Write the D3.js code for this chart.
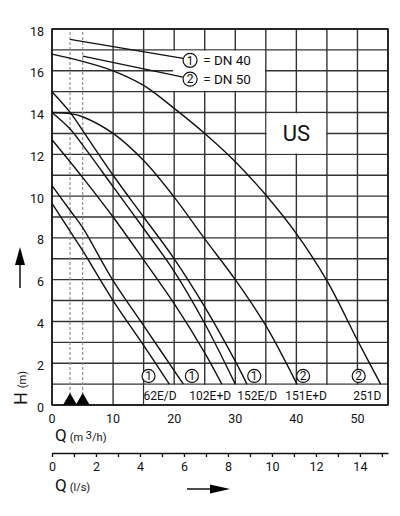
<!DOCTYPE html>
<html>
<head>
<meta charset="utf-8">
<script src="https://cdn.jsdelivr.net/npm/d3@7"></script>
<style>
  body { margin: 0; background: #fff; }
  svg text { font-family: Roboto, "Liberation Sans", sans-serif; fill: #111; }
</style>
</head>
<body>
<div id="chart"></div>
<script>
// grid and tick values
var qGridLines = [ 0, 10, 15, 20, 25, 30, 35, 40, 45, 50, 55 ];
var hGridLines = [ 0, 1, 2, 3, 4, 5, 6, 7, 8, 9, 10, 11, 12, 13, 14, 15, 16, 17, 18 ];
var hTickLabels = [ 0, 2, 4, 6, 8, 10, 12, 14, 16, 18 ];
var qTickLabels = [ 0, 10, 20, 30, 40, 50 ];
var lsTicks = [ 0, 1, 2, 3, 4, 5, 6, 7, 8, 9, 10, 11, 12, 13, 14, 15 ];
var lsTickLabels = [ 0, 2, 4, 6, 8, 10, 12, 14 ];

// pump curves, [ Q m3/h, H m ]
var curve251D = [ [ 0, 16.8 ], [ 5, 16.45 ], [ 10, 16.0 ], [ 15, 15.3 ], [ 20, 14.2 ], [ 25, 13.0 ], [ 30, 11.65 ], [ 35, 10.05 ], [ 40, 8.2 ], [ 45, 5.95 ], [ 50, 3.1 ], [ 53.8, 1.0 ] ];
var curve151ED = [ [ 0, 14.0 ], [ 3, 13.95 ], [ 5, 13.8 ], [ 10, 13.0 ], [ 15, 11.7 ], [ 20, 9.95 ], [ 25, 7.95 ], [ 30, 6.0 ], [ 35, 3.8 ], [ 40.1, 1.0 ] ];
var curve152Ea = [ [ 0, 15.0 ], [ 3, 14.0 ], [ 5, 13.15 ], [ 10, 11.0 ], [ 15, 9.0 ], [ 20, 7.0 ], [ 25, 4.7 ], [ 30, 2.1 ], [ 31.9, 1.0 ] ];
var curve152Eb = [ [ 0, 14.0 ], [ 3, 13.2 ], [ 5, 12.45 ], [ 10, 10.45 ], [ 15, 8.45 ], [ 20, 6.4 ], [ 25, 3.9 ], [ 30, 1.0 ] ];
var curve102ED = [ [ 0, 12.7 ], [ 5, 10.9 ], [ 10, 9.0 ], [ 15, 6.95 ], [ 20, 4.85 ], [ 25, 2.5 ], [ 27.8, 1.0 ] ];
var curve62Ea = [ [ 0, 10.5 ], [ 3, 9.3 ], [ 5, 8.5 ], [ 10, 5.95 ], [ 15, 3.8 ], [ 21.5, 1.0 ] ];
var curve62Eb = [ [ 0, 9.65 ], [ 3, 8.3 ], [ 5, 7.4 ], [ 10, 5.0 ], [ 15, 2.85 ], [ 19.2, 1.0 ] ];
var pumpCurves = [ curve251D, curve151ED, curve152Ea, curve152Eb, curve102ED, curve62Ea, curve62Eb ];

// pump names along the bottom, with DN marker
var pumpNames = [ "62E/D", "102E+D", "152E/D", "151E+D", "251D" ];
var pumpNameQ = [ 17.7, 25.9, 33.6, 41.6, 51.6 ];
var pumpMarks = [ "1", "1", "1", "2", "2" ];
var pumpMarkQ = [ 15.8, 22.9, 33.1, 41.1, 50.2 ];

// legend
var dnMarks = [ "1", "2" ];
var dnNames = [ "= DN 40", "= DN 50" ];
var dnLineQ = [ 2.95, 5.03 ];
var dnLineH = [ 17.5, 16.7 ];
var dnMarkH = [ 16.5, 15.6 ];

var W = 400, Hgt = 516;
var x = d3.scaleLinear().domain( [ 0, 55 ] ).range( [ 52, 388 ] );
var y = d3.scaleLinear().domain( [ 0, 18 ] ).range( [ 405, 29 ] );
var xls = d3.scaleLinear().domain( [ 0, 55 / 3.6 ] ).range( [ 52, 388 ] );

var svg = d3.select( "#chart" )
  .append( "svg" )
  .attr( "width", W )
  .attr( "height", Hgt );

var gridColor = "#333";

// grid
svg.append( "g" )
  .selectAll( "line" )
  .data( qGridLines )
  .enter()
  .append( "line" )
  .attr( "x1", d => x( d ) ).attr( "x2", d => x( d ) )
  .attr( "y1", y( 0 ) ).attr( "y2", y( 18 ) )
  .attr( "stroke", gridColor ).attr( "stroke-width", 1.4 );

svg.append( "g" )
  .selectAll( "line" )
  .data( hGridLines )
  .enter()
  .append( "line" )
  .attr( "x1", x( 0 ) ).attr( "x2", x( 55 ) )
  .attr( "y1", d => y( d ) ).attr( "y2", d => y( d ) )
  .attr( "stroke", gridColor ).attr( "stroke-width", 1.4 );

// white boxes cut out of the grid
function clearBox( q0, q1, h0, h1, padL ) {
  svg.append( "rect" )
    .attr( "x", x( q0 ) + padL )
    .attr( "y", y( h1 ) + 0.8 )
    .attr( "width", x( q1 ) - x( q0 ) - padL - 0.8 )
    .attr( "height", y( h0 ) - y( h1 ) - 1.6 )
    .attr( "fill", "#fff" );
}
clearBox( 20, 35, 15, 17, -1.2 );
clearBox( 35, 45, 12, 14, 0.8 );
clearBox( 15, 55, 0, 1, 0.8 );

// dashed marker lines
svg.append( "g" )
  .selectAll( "line" )
  .data( dnLineQ )
  .enter()
  .append( "line" )
  .attr( "x1", d => x( d ) ).attr( "x2", d => x( d ) )
  .attr( "y1", y( 0 ) ).attr( "y2", y( 18 ) )
  .attr( "stroke", "#888" ).attr( "stroke-width", 1.1 )
  .attr( "stroke-dasharray", "3,2" );

// triangles at the foot of the dashed lines
svg.append( "g" )
  .selectAll( "path" )
  .data( dnLineQ )
  .enter()
  .append( "path" )
  .attr( "d", d => "M" + ( x( d ) - 7 ) + "," + y( 0 ) + "L" + x( d ) + "," + ( y( 0 ) - 12 ) + "L" + ( x( d ) + 7 ) + "," + y( 0 ) + "Z" )
  .attr( "fill", "#000" );

// pump curves
var line = d3.line()
  .x( d => x( d[ 0 ] ) )
  .y( d => y( d[ 1 ] ) )
  .curve( d3.curveCatmullRom.alpha( 0.5 ) );

svg.append( "g" )
  .selectAll( "path" )
  .data( pumpCurves )
  .enter()
  .append( "path" )
  .attr( "d", line )
  .attr( "fill", "none" )
  .attr( "stroke", "#111" )
  .attr( "stroke-width", 1.4 );

// legend leaders, circles and names
var legendQ = 22.6, legendR = 7;
svg.append( "g" )
  .selectAll( "line" )
  .data( dnLineQ )
  .enter()
  .append( "line" )
  .attr( "x1", d => x( d ) )
  .attr( "y1", ( d, i ) => y( dnLineH[ i ] ) )
  .attr( "x2", x( legendQ ) - legendR )
  .attr( "y2", ( d, i ) => y( dnMarkH[ i ] ) - 2 )
  .attr( "stroke", "#111" ).attr( "stroke-width", 1.3 );

function circledNumber( cx, cy, r, label, size ) {
  svg.append( "circle" )
    .attr( "cx", cx ).attr( "cy", cy ).attr( "r", r )
    .attr( "fill", "#fff" ).attr( "stroke", "#111" ).attr( "stroke-width", 1.2 );
  svg.append( "text" )
    .attr( "x", cx ).attr( "y", cy + size * 0.36 )
    .attr( "text-anchor", "middle" )
    .attr( "font-size", size )
    .text( label );
}

dnMarks.forEach( ( m, i ) => {
  circledNumber( x( legendQ ), y( dnMarkH[ i ] ), legendR, m, 12 );
  svg.append( "text" )
    .attr( "x", x( 24.75 ) )
    .attr( "y", y( dnMarkH[ i ] ) + 5 )
    .attr( "font-size", 13.5 )
    .text( dnNames[ i ] );
} );

// "US" label
svg.append( "text" )
  .attr( "x", x( 40 ) )
  .attr( "y", y( 13 ) + 8 )
  .attr( "text-anchor", "middle" )
  .attr( "font-size", 22 )
  .text( "US" );

// pump markers and names at the bottom
pumpMarks.forEach( ( m, i ) => {
  circledNumber( x( pumpMarkQ[ i ] ), y( 1.39 ), 6.5, m, 12 );
} );

svg.append( "g" )
  .selectAll( "text" )
  .data( pumpNames )
  .enter()
  .append( "text" )
  .attr( "x", ( d, i ) => x( pumpNameQ[ i ] ) )
  .attr( "y", y( 0 ) - 5 )
  .attr( "text-anchor", "middle" )
  .attr( "font-size", 12 )
  .text( d => d );

// frame
svg.append( "rect" )
  .attr( "x", x( 0 ) ).attr( "y", y( 18 ) )
  .attr( "width", x( 55 ) - x( 0 ) ).attr( "height", y( 0 ) - y( 18 ) )
  .attr( "fill", "none" ).attr( "stroke", "#111" ).attr( "stroke-width", 1.5 );

// H tick labels
svg.append( "g" )
  .selectAll( "text" )
  .data( hTickLabels )
  .enter()
  .append( "text" )
  .attr( "x", 44 )
  .attr( "y", d => y( d ) + 6.5 )
  .attr( "text-anchor", "end" )
  .attr( "font-size", 12.5 )
  .text( d => d );

// Q m3/h tick labels
svg.append( "g" )
  .selectAll( "text" )
  .data( qTickLabels )
  .enter()
  .append( "text" )
  .attr( "x", d => x( d ) )
  .attr( "y", 423 )
  .attr( "text-anchor", "middle" )
  .attr( "font-size", 12.5 )
  .text( d => d );

var qLabel = svg.append( "text" ).attr( "x", 55 ).attr( "y", 441 );
qLabel.append( "tspan" ).attr( "font-size", 17 ).text( "Q" );
qLabel.append( "tspan" ).attr( "font-size", 11 ).attr( "dx", 3 ).text( "(m " );
qLabel.append( "tspan" ).attr( "font-size", 11 ).attr( "dy", -2 ).text( "3" );
qLabel.append( "tspan" ).attr( "font-size", 11 ).attr( "dy", 2 ).text( "/h)" );

// second axis in l/s
var lsAxis = d3.axisBottom( xls )
  .tickValues( lsTicks )
  .tickSizeInner( 4 )
  .tickSizeOuter( 0 )
  .tickFormat( d => lsTickLabels.indexOf( d ) >= 0 ? d : "" )
  .tickPadding( 5 );

var gls = svg.append( "g" )
  .attr( "transform", "translate(0,453)" )
  .call( lsAxis );
gls.select( ".domain" ).attr( "stroke", "#111" ).attr( "stroke-width", 1.5 );
gls.selectAll( ".tick line" ).attr( "stroke", "#111" ).attr( "stroke-width", 1.3 );
gls.selectAll( ".tick text" ).attr( "font-size", 12.5 ).attr( "font-family", null );

var lsLabel = svg.append( "text" ).attr( "x", 55 ).attr( "y", 491 );
lsLabel.append( "tspan" ).attr( "font-size", 17 ).text( "Q" );
lsLabel.append( "tspan" ).attr( "font-size", 11 ).attr( "dx", 3 ).text( "(l/s)" );

// arrows
svg.append( "line" )
  .attr( "x1", 187 ).attr( "y1", 489 ).attr( "x2", 212 ).attr( "y2", 489 )
  .attr( "stroke", "#111" ).attr( "stroke-width", 1.5 );
svg.append( "path" )
  .attr( "d", "M210,484.5L230,489L210,493.5Z" )
  .attr( "fill", "#000" );

svg.append( "line" )
  .attr( "x1", 20 ).attr( "y1", 288 ).attr( "x2", 20 ).attr( "y2", 262 )
  .attr( "stroke", "#111" ).attr( "stroke-width", 1.5 );
svg.append( "path" )
  .attr( "d", "M15,265L20,247L25,265Z" )
  .attr( "fill", "#000" );

// H (m), read bottom to top
var hLabel = svg.append( "text" )
  .attr( "transform", "translate(27,405) rotate(-90)" );
hLabel.append( "tspan" ).attr( "font-size", 18 ).text( "H" );
hLabel.append( "tspan" ).attr( "font-size", 11 ).attr( "dx", 4 ).attr( "dy", -1 ).text( "(m)" );
</script>
</body>
</html>
